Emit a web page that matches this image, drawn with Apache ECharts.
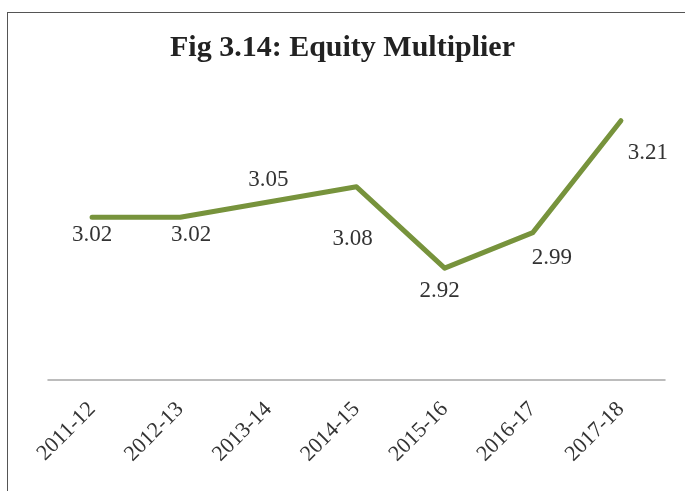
<!DOCTYPE html>
<html>
<head>
<meta charset="utf-8">
<script src="https://cdn.jsdelivr.net/npm/echarts@6/dist/echarts.min.js"></script>
<style>
    html, body { margin: 0; padding: 0; background: #fff; }
    #frame {
        position: absolute; left: 7px; top: 12px; width: 700px; height: 500px;
        border-left: 1.5px solid #555; border-top: 1.5px solid #555;
    }
    #chart { position: absolute; left: 0; top: 0; width: 685px; height: 491px; }
</style>
</head>
<body>
<div id="frame"></div>
<div id="chart"></div>
<script>
// 年度
const years = ['2011-12', '2012-13', '2013-14', '2014-15', '2015-16', '2016-17', '2017-18'];
// 权益乘数
const multiplier = [3.02, 3.02, 3.05, 3.08, 2.92, 2.99, 3.21];
// 数据标签偏移 (x, y)
const labelOffsets = [[0, 18], [11, 18], [0, -22], [-4, 52], [-5, 23], [19, 25], [27, 32]];

document.addEventListener('DOMContentLoaded', function() {
    const chart = echarts.init(document.getElementById('chart'));
    const serif = '"Liberation Serif", "DejaVu Serif", serif';

    const option = {
        animation: false,
        title: {
            text: 'Fig 3.14: Equity Multiplier',
            left: 'center',
            top: 28,
            textStyle: { fontFamily: serif, fontSize: 30, fontWeight: 'bold', color: '#222' }
        },
        grid: { left: 48, right: 20, top: 75, bottom: 111 },
        xAxis: {
            type: 'category',
            data: years,
            boundaryGap: true,
            axisLine: { lineStyle: { color: '#a6a6a6', width: 1.5 } },
            axisTick: { show: false },
            axisLabel: {
                rotate: 45,
                margin: 26,
                fontFamily: serif,
                fontSize: 22,
                color: '#333'
            }
        },
        yAxis: {
            type: 'value',
            min: 2.7,
            max: 3.3,
            show: false
        },
        series: [{
            type: 'line',
            data: multiplier.map(function(v, i) {
                return {
                    value: v,
                    label: { offset: labelOffsets[i] }
                };
            }),
            symbol: 'circle',
            symbolSize: 1,
            itemStyle: { color: '#77933c' },
            lineStyle: { color: '#77933c', width: 5, cap: 'round', join: 'round' },
            label: {
                show: true,
                position: 'inside',
                fontFamily: serif,
                fontSize: 23,
                color: '#333',
                formatter: function(p) { return p.value.toFixed(2); }
            }
        }]
    };
    chart.setOption(option);

    window.addEventListener('resize', function() {
        chart.resize();
    });
});
</script>
</body>
</html>
